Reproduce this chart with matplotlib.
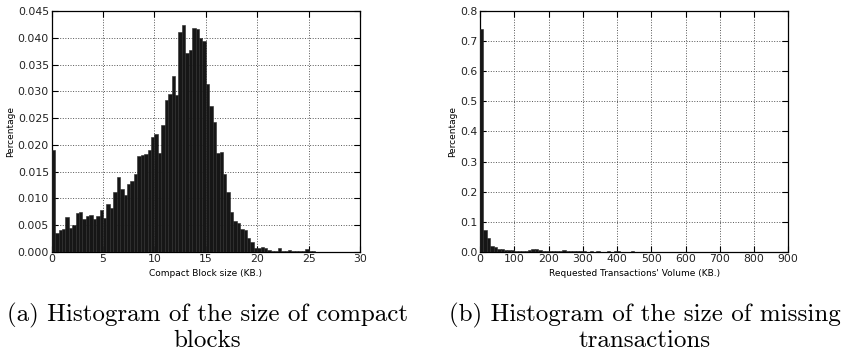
import numpy as np
import matplotlib
matplotlib.use("Agg")
import matplotlib.pyplot as plt

# (a) compact block size histogram, bin width 1/3 KB starting at 0
block_bin_width = 1.0 / 3.0
block_heights = [
    0.0190, 0.0035, 0.0040, 0.0043, 0.0065, 0.0045, 0.0050, 0.0072, 0.0074, 0.0061,
    0.0067, 0.0068, 0.0062, 0.0066, 0.0078, 0.0063, 0.0090, 0.0082, 0.0112, 0.0140,
    0.0118, 0.0106, 0.0127, 0.0132, 0.0145, 0.0180, 0.0181, 0.0183, 0.0190, 0.0214,
    0.0221, 0.0184, 0.0238, 0.0283, 0.0296, 0.0328, 0.0294, 0.0411, 0.0425, 0.0372,
    0.0377, 0.0418, 0.0416, 0.0400, 0.0394, 0.0314, 0.0273, 0.0242, 0.0185, 0.0187,
    0.0145, 0.0111, 0.0075, 0.0057, 0.0054, 0.0043, 0.0040, 0.0025, 0.0019, 0.0007,
    0.0006, 0.0009, 0.0007, 0.0003, 0.0002, 0.0002, 0.0006, 0.0002, 0.0002, 0.0003,
    0.0001, 0.0001, 0.0001, 0.0001, 0.0005, 0.0001, 0.0001,
]
block_xticks = [0, 5, 10, 15, 20, 25, 30]
block_yticks = [0.000, 0.005, 0.010, 0.015, 0.020, 0.025, 0.030, 0.035, 0.040, 0.045]

# (b) requested transactions volume histogram, bin width 10 KB
tx_bin_width = 10.0
tx_heights = [
    0.740, 0.072, 0.045, 0.020, 0.014, 0.010, 0.008, 0.007, 0.006, 0.004,
    0.003, 0.002, 0.003, 0.002, 0.004, 0.009, 0.010, 0.006, 0.003, 0.002,
    0.002, 0.003, 0.001, 0.002, 0.005, 0.002, 0.001, 0.001, 0.001, 0.001,
    0.001, 0.0005, 0.001, 0.0005, 0.001, 0.0005, 0.0005, 0.001, 0.0005, 0.0008,
    0.001, 0.0005, 0.0003, 0.0005, 0.0008, 0.0003, 0.0005, 0.0003, 0.0003, 0.0003,
    0.0005, 0.0003, 0.0003, 0.0, 0.0003, 0.0, 0.0003, 0.0, 0.0, 0.0003,
    0.0, 0.0, 0.0003, 0.0, 0.0, 0.0, 0.0003,
]
tx_xticks = [0, 100, 200, 300, 400, 500, 600, 700, 800, 900]
tx_yticks = [0.0, 0.1, 0.2, 0.3, 0.4, 0.5, 0.6, 0.7, 0.8]

captions = ["(a) Histogram of the size of compact\nblocks",
            "(b) Histogram of the size of missing\ntransactions"]

plt.rcParams['font.family'] = 'DejaVu Sans'

fig = plt.figure(figsize=(8.47, 3.52), dpi=100)
ax1 = fig.add_axes([0.061, 0.285, 0.364, 0.683])
ax2 = fig.add_axes([0.5667, 0.285, 0.364, 0.683])


def style_axes(ax, xticks, yticks, xlabel, yfmt):
    ax.set_xticks(xticks)
    ax.set_yticks(yticks)
    ax.set_xlim(xticks[0], xticks[-1])
    ax.set_ylim(yticks[0], yticks[-1])
    ax.set_yticklabels([yfmt.format(v) for v in yticks])
    ax.tick_params(direction='in', top=True, right=True, length=4, width=0.8,
                   labelsize=7.8, labelcolor='#222222', pad=2)
    ax.grid(True, linestyle=':', color='#555555', linewidth=0.7)
    ax.set_axisbelow(True)
    ax.set_xlabel(xlabel, fontsize=6.5, labelpad=3)
    ax.set_ylabel('Percentage', fontsize=6.5, labelpad=2)
    for s in ax.spines.values():
        s.set_linewidth(0.9)


x1 = np.arange(len(block_heights)) * block_bin_width
ax1.bar(x1, block_heights, width=block_bin_width, align='edge',
        color='#161616', edgecolor='#2a2a2a', linewidth=0.4, zorder=3)
style_axes(ax1, block_xticks, block_yticks, 'Compact Block size (KB.)', '{:.3f}')

x2 = np.arange(len(tx_heights)) * tx_bin_width
ax2.bar(x2, tx_heights, width=tx_bin_width, align='edge',
        color='#161616', edgecolor='#2a2a2a', linewidth=0.4, zorder=3)
style_axes(ax2, tx_xticks, tx_yticks, "Requested Transactions' Volume (KB.)", '{:.1f}')

fig.text(0.245, 0.070, captions[0], ha='center', va='center', fontsize=18,
         family='cmr10', linespacing=1.15)
fig.text(0.761, 0.070, captions[1], ha='center', va='center', fontsize=18,
         family='cmr10', linespacing=1.15)

fig.savefig('out.png', dpi=100)
